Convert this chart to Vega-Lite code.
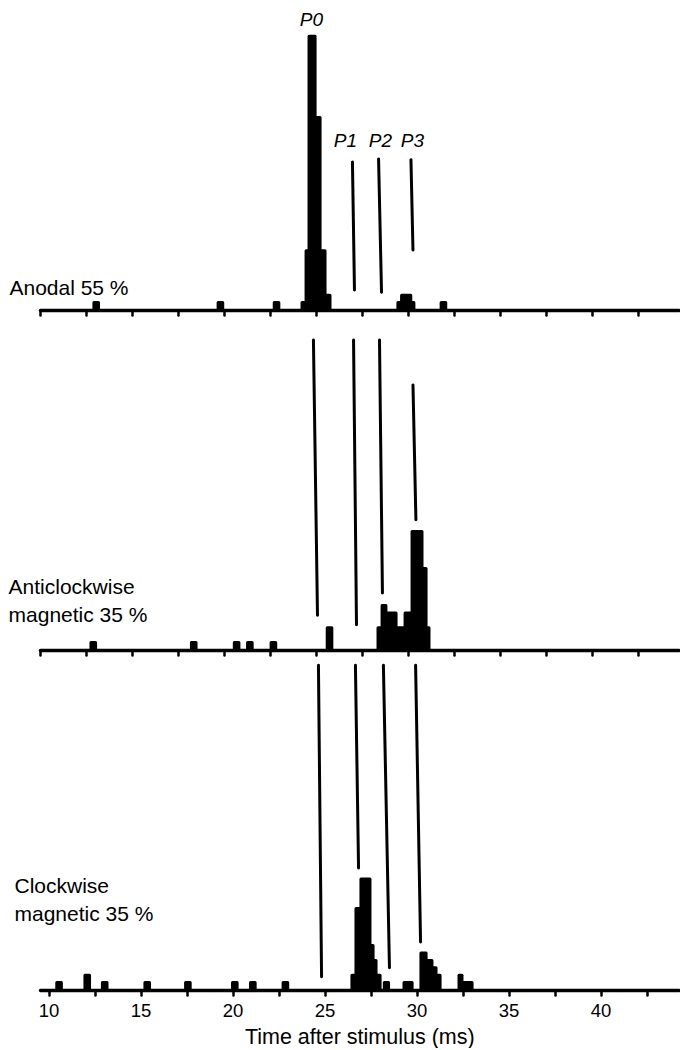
{
  "$schema": "https://vega.github.io/schema/vega-lite/v6.json",
  "padding": {"left": 8, "top": 0, "right": 2, "bottom": 0},
  "background": "white",
  "bounds": "flush",
  "spacing": 7,
  "config": {
    "view": {"stroke": null},
    "font": "Liberation Sans",
    "axis": {"domainColor": "black", "domainWidth": 3.5, "domainCap": "round", "tickColor": "black", "tickWidth": 2.5, "tickCap": "round", "tickSize": 5, "grid": false, "labelFont": "Liberation Sans", "labelFontSize": 18.5, "labelColor": "black", "titleFont": "Liberation Sans", "titleFontSize": 21.5, "titleFontWeight": "normal", "titleColor": "black"}
  },
  "datasets": {
    "bins": [
      {"p": "a", "t": 12.93, "t2": 13.18, "n": 1},
      {"p": "a", "t": 19.68, "t2": 19.93, "n": 1},
      {"p": "a", "t": 22.73, "t2": 22.98, "n": 1},
      {"p": "a", "t": 24.24, "t2": 24.46, "n": 1},
      {"p": "a", "t": 24.46, "t2": 24.62, "n": 8},
      {"p": "a", "t": 24.62, "t2": 24.95, "n": 37},
      {"p": "a", "t": 24.95, "t2": 25.22, "n": 26},
      {"p": "a", "t": 25.22, "t2": 25.49, "n": 8},
      {"p": "a", "t": 25.49, "t2": 25.76, "n": 2},
      {"p": "a", "t": 29.45, "t2": 29.65, "n": 1},
      {"p": "a", "t": 29.65, "t2": 30.15, "n": 2},
      {"p": "a", "t": 30.15, "t2": 30.32, "n": 1},
      {"p": "a", "t": 31.8, "t2": 32.05, "n": 1},
      {"p": "b", "t": 12.77, "t2": 13.02, "n": 1},
      {"p": "b", "t": 18.23, "t2": 18.48, "n": 1},
      {"p": "b", "t": 20.56, "t2": 20.81, "n": 1},
      {"p": "b", "t": 21.28, "t2": 21.53, "n": 1},
      {"p": "b", "t": 22.56, "t2": 22.81, "n": 1},
      {"p": "b", "t": 25.61, "t2": 25.86, "n": 3},
      {"p": "b", "t": 28.37, "t2": 28.59, "n": 3},
      {"p": "b", "t": 28.59, "t2": 28.8, "n": 6},
      {"p": "b", "t": 28.8, "t2": 29.35, "n": 5},
      {"p": "b", "t": 29.35, "t2": 29.84, "n": 3},
      {"p": "b", "t": 29.84, "t2": 30.22, "n": 5},
      {"p": "b", "t": 30.22, "t2": 30.76, "n": 16},
      {"p": "b", "t": 30.76, "t2": 30.98, "n": 11},
      {"p": "b", "t": 30.98, "t2": 31.14, "n": 3},
      {"p": "c", "t": 10.45, "t2": 10.7, "n": 1},
      {"p": "c", "t": 11.98, "t2": 12.23, "n": 2},
      {"p": "c", "t": 12.93, "t2": 13.18, "n": 1},
      {"p": "c", "t": 15.24, "t2": 15.49, "n": 1},
      {"p": "c", "t": 17.45, "t2": 17.7, "n": 1},
      {"p": "c", "t": 20.0, "t2": 20.25, "n": 1},
      {"p": "c", "t": 20.98, "t2": 21.23, "n": 1},
      {"p": "c", "t": 22.75, "t2": 23.0, "n": 1},
      {"p": "c", "t": 26.49, "t2": 26.71, "n": 2},
      {"p": "c", "t": 26.71, "t2": 26.98, "n": 11},
      {"p": "c", "t": 26.98, "t2": 27.47, "n": 15},
      {"p": "c", "t": 27.47, "t2": 27.64, "n": 6},
      {"p": "c", "t": 27.64, "t2": 27.8, "n": 4},
      {"p": "c", "t": 27.8, "t2": 28.02, "n": 2},
      {"p": "c", "t": 28.25, "t2": 28.48, "n": 1},
      {"p": "c", "t": 29.32, "t2": 29.76, "n": 1},
      {"p": "c", "t": 30.24, "t2": 30.52, "n": 5},
      {"p": "c", "t": 30.52, "t2": 30.84, "n": 4},
      {"p": "c", "t": 30.84, "t2": 31.06, "n": 3},
      {"p": "c", "t": 31.06, "t2": 31.28, "n": 2},
      {"p": "c", "t": 32.31, "t2": 32.47, "n": 2},
      {"p": "c", "t": 32.47, "t2": 33.02, "n": 1}
    ],
    "lines": [
      {"p": "a", "peak": "P1", "t": 26.98, "n": 20.0, "t2": 27.09, "n2": 2.7},
      {"p": "a", "peak": "P2", "t": 28.4, "n": 20.4, "t2": 28.56, "n2": 2.4},
      {"p": "a", "peak": "P3", "t": 30.16, "n": 20.3, "t2": 30.27, "n2": 8.1},
      {"p": "b", "peak": "P0", "t": 24.86, "n": 41.9, "t2": 25.08, "n2": 4.7},
      {"p": "b", "peak": "P1", "t": 27.04, "n": 41.9, "t2": 27.2, "n2": 3.4},
      {"p": "b", "peak": "P2", "t": 28.45, "n": 41.9, "t2": 28.61, "n2": 7.7},
      {"p": "b", "peak": "P3", "t": 30.27, "n": 35.8, "t2": 30.43, "n2": 17.6},
      {"p": "c", "peak": "P0", "t": 24.67, "n": 43.9, "t2": 24.84, "n2": 1.8},
      {"p": "c", "peak": "P1", "t": 26.68, "n": 43.9, "t2": 26.85, "n2": 16.5},
      {"p": "c", "peak": "P2", "t": 28.2, "n": 43.9, "t2": 28.53, "n2": 3.0},
      {"p": "c", "peak": "P3", "t": 29.95, "n": 43.9, "t2": 30.22, "n2": 6.5}
    ],
    "labels": [
      {"p": "a", "kind": "side", "text": "Anodal 55 %", "t": 8.34, "n": 2.8},
      {"p": "b", "kind": "side", "text": "Anticlockwise", "t": 8.29, "n": 8.4},
      {"p": "b", "kind": "side", "text": "magnetic 35 %", "t": 8.29, "n": 4.6},
      {"p": "c", "kind": "side", "text": "Clockwise", "t": 8.15, "n": 13.9},
      {"p": "c", "kind": "side", "text": "magnetic 35 %", "t": 8.15, "n": 10.1},
      {"p": "a", "kind": "peak", "text": "P0", "t": 24.75, "n": 39.2},
      {"p": "a", "kind": "peak", "text": "P1", "t": 26.6, "n": 22.8},
      {"p": "a", "kind": "peak", "text": "P2", "t": 28.5, "n": 22.8},
      {"p": "a", "kind": "peak", "text": "P3", "t": 30.24, "n": 22.8}
    ]
  },
  "vconcat": [
    {
      "width": 638.5,
      "height": 310,
      "encoding": {
        "x": {"field": "t", "type": "quantitative", "scale": {"domain": [10, 44.7], "nice": false, "zero": false}, "axis": {"values": [10, 12.5, 15, 17.5, 20, 22.5, 25, 27.5, 30, 32.5, 35, 37.5, 40, 42.5], "labels": false, "title": null}},
        "y": {"field": "n", "type": "quantitative", "scale": {"domain": [0, 41.89], "nice": false}, "axis": null}
      },
      "layer": [
        {"data": {"name": "bins"}, "transform": [{"filter": "datum.p === 'a'"}], "mark": {"type": "rect", "color": "black", "stroke": "black", "strokeWidth": 3, "strokeJoin": "round"}, "encoding": {"x2": {"field": "t2"}, "y2": {"datum": 0}}},
        {"data": {"name": "lines"}, "transform": [{"filter": "datum.p === 'a'"}], "mark": {"type": "rule", "color": "black", "strokeWidth": 3, "strokeCap": "round"}, "encoding": {"x2": {"field": "t2"}, "y2": {"field": "n2"}}},
        {"data": {"name": "labels"}, "transform": [{"filter": "datum.p === 'a' && datum.kind === 'side'"}], "mark": {"type": "text", "align": "left", "baseline": "middle", "fontSize": 21, "color": "black"}, "encoding": {"text": {"field": "text"}}},
        {"data": {"name": "labels"}, "transform": [{"filter": "datum.p === 'a' && datum.kind === 'peak'"}], "mark": {"type": "text", "align": "center", "baseline": "middle", "fontSize": 19, "fontStyle": "italic", "color": "black"}, "encoding": {"text": {"field": "text"}}}
      ]
    },
    {
      "width": 638.5,
      "height": 333,
      "encoding": {
        "x": {"field": "t", "type": "quantitative", "scale": {"domain": [10, 44.7], "nice": false, "zero": false}, "axis": {"values": [10, 12.5, 15, 17.5, 20, 22.5, 25, 27.5, 30, 32.5, 35, 37.5, 40, 42.5], "labels": false, "title": null}},
        "y": {"field": "n", "type": "quantitative", "scale": {"domain": [0, 45], "nice": false}, "axis": null}
      },
      "layer": [
        {"data": {"name": "bins"}, "transform": [{"filter": "datum.p === 'b'"}], "mark": {"type": "rect", "color": "black", "stroke": "black", "strokeWidth": 3, "strokeJoin": "round"}, "encoding": {"x2": {"field": "t2"}, "y2": {"datum": 0}}},
        {"data": {"name": "lines"}, "transform": [{"filter": "datum.p === 'b'"}], "mark": {"type": "rule", "color": "black", "strokeWidth": 3, "strokeCap": "round"}, "encoding": {"x2": {"field": "t2"}, "y2": {"field": "n2"}}},
        {"data": {"name": "labels"}, "transform": [{"filter": "datum.p === 'b' && datum.kind === 'side'"}], "mark": {"type": "text", "align": "left", "baseline": "middle", "fontSize": 21, "color": "black"}, "encoding": {"text": {"field": "text"}}}
      ]
    },
    {
      "width": 638.5,
      "height": 333,
      "encoding": {
        "x": {"field": "t", "type": "quantitative", "scale": {"domain": [9.538, 44.238], "nice": false, "zero": false}, "axis": {"values": [10, 12.5, 15, 17.5, 20, 22.5, 25, 27.5, 30, 32.5, 35, 37.5, 40, 42.5], "labelExpr": "datum.value % 5 === 0 ? datum.label : ''", "labelPadding": 6, "labelOverlap": false, "labelFlush": false, "title": "Time after stimulus (ms)", "titlePadding": 7}},
        "y": {"field": "n", "type": "quantitative", "scale": {"domain": [0, 45], "nice": false}, "axis": null}
      },
      "layer": [
        {"data": {"name": "bins"}, "transform": [{"filter": "datum.p === 'c'"}], "mark": {"type": "rect", "color": "black", "stroke": "black", "strokeWidth": 3, "strokeJoin": "round"}, "encoding": {"x2": {"field": "t2"}, "y2": {"datum": 0}}},
        {"data": {"name": "lines"}, "transform": [{"filter": "datum.p === 'c'"}], "mark": {"type": "rule", "color": "black", "strokeWidth": 3, "strokeCap": "round"}, "encoding": {"x2": {"field": "t2"}, "y2": {"field": "n2"}}},
        {"data": {"name": "labels"}, "transform": [{"filter": "datum.p === 'c' && datum.kind === 'side'"}], "mark": {"type": "text", "align": "left", "baseline": "middle", "fontSize": 21, "color": "black"}, "encoding": {"text": {"field": "text"}}}
      ]
    }
  ],
  "resolve": {"scale": {"x": "independent", "y": "independent"}}
}
